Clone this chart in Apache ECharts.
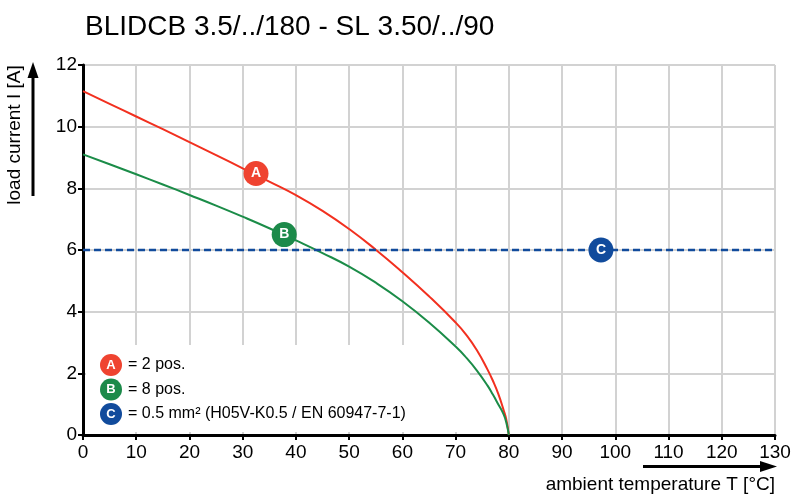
<!DOCTYPE html>
<html lang="en">
<head>
  <meta charset="utf-8"/>
  <title>BLIDCB 3.5/../180 - SL 3.50/../90</title>
  <script src="https://cdn.jsdelivr.net/npm/echarts/dist/echarts.min.js"></script>
  <style>
    body { margin: 0; background-color: #fff; }
  </style>
</head>
<body>
<div id="main" style="width: 800px;height: 500px"></div>
<script type="text/javascript">
  // curve A (2 pos.)
  var tempA = [0, 5, 10, 15, 20, 25, 30, 35, 40, 45, 50, 55, 60, 65, 70, 72, 74, 76, 77, 78, 79, 79.5, 80];
  var currentA = [11.15, 10.74, 10.33, 9.92, 9.5, 9.08, 8.65, 8.22, 7.78, 7.27, 6.68, 6.01, 5.28, 4.5, 3.65, 3.25, 2.75, 2.12, 1.76, 1.34, 0.82, 0.52, 0];
  // curve B (8 pos.)
  var tempB = [0, 5, 10, 15, 20, 25, 30, 35, 40, 45, 50, 55, 60, 65, 70, 72, 74, 76, 77, 78, 79, 79.5, 80];
  var currentB = [9.1, 8.78, 8.455, 8.125, 7.785, 7.44, 7.08, 6.705, 6.31, 5.9, 5.46, 4.94, 4.34, 3.65, 2.87, 2.51, 2.09, 1.6, 1.31, 1.0, 0.68, 0.42, 0];
  // line C (0.5 mm²)
  var tempC = [0, 130];
  var currentC = [6, 6];

  var markerLetters = ['A', 'B', 'C'];
  var markerTemp = [32.5, 37.8, 97.3];
  var markerCurrent = [8.48, 6.5, 6];
  var legendTexts = ['= 2 pos.', '= 8 pos.', '= 0.5 mm\u00b2 (H05V-K0.5 / EN 60947-7-1)'];

  var xMin = 0, xMax = 130, xStep = 10;
  var yMin = 0, yMax = 12, yStep = 2;

  var colors = ['#f2301f', '#1b8c48', '#114b9c'];
  var markerColors = ['#ef4330', '#1c8a4a', '#114b9c'];
  var font = '"Liberation Sans", Arial, sans-serif';

  function pairs(xs, ys) {
    return xs.map(function (x, i) { return [x, ys[i]]; });
  }

  var myChart = echarts.init(document.getElementById('main'));

  var legendGraphics = [{
    type: 'rect',
    z: 1,
    shape: { x: 86, y: 345, width: 384, height: 87 },
    style: { fill: '#fff' }
  }];
  legendTexts.forEach(function (t, i) {
    var cy = 365 + i * 24.5;
    legendGraphics.push({
      type: 'circle', z: 5,
      shape: { cx: 111, cy: cy, r: 11 },
      style: { fill: markerColors[i] }
    });
    legendGraphics.push({
      type: 'text', z: 6, x: 111, y: cy,
      style: { text: markerLetters[i], fill: '#fff', font: 'bold 13px ' + font, align: 'center', verticalAlign: 'middle' }
    });
    legendGraphics.push({
      type: 'text', z: 6, x: 128, y: cy,
      style: { text: t, fill: '#000', font: '16px ' + font, verticalAlign: 'middle' }
    });
  });

  var option = {
    animation: false,
    title: {
      text: 'BLIDCB 3.5/../180 - SL 3.50/../90',
      left: 85,
      top: 13,
      padding: 0,
      textStyle: { fontSize: 28, fontWeight: 'normal', color: '#000', fontFamily: font }
    },
    grid: { left: 83, right: 25, top: 65, bottom: 65, containLabel: false },
    xAxis: {
      type: 'value',
      min: xMin, max: xMax, interval: xStep,
      axisLine: { lineStyle: { color: '#000', width: 3 } },
      axisTick: { show: true, length: 5, lineStyle: { color: '#000', width: 2 } },
      axisLabel: { color: '#000', fontSize: 19, fontFamily: font, margin: 8 },
      splitLine: { show: true, lineStyle: { color: '#d2d2d2', width: 2 } }
    },
    yAxis: {
      type: 'value',
      min: yMin, max: yMax, interval: yStep,
      axisLine: { show: true, lineStyle: { color: '#000', width: 3 } },
      axisTick: { show: true, length: 5, lineStyle: { color: '#000', width: 2 } },
      axisLabel: { color: '#000', fontSize: 19, fontFamily: font, margin: 6 },
      splitLine: { show: true, lineStyle: { color: '#d2d2d2', width: 2 } }
    },
    graphic: legendGraphics.concat([
      // y axis caption and arrow
      {
        type: 'text', x: 15, y: 135, rotation: Math.PI / 2,
        style: { text: 'load current I [A]', fill: '#000', font: '19px ' + font, align: 'center', verticalAlign: 'middle' }
      },
      { type: 'line', shape: { x1: 33, y1: 196, x2: 33, y2: 75 }, style: { stroke: '#000', lineWidth: 3 } },
      { type: 'polygon', shape: { points: [[33, 62], [27.5, 78], [38.5, 78]] }, style: { fill: '#000' } },
      // x axis caption and arrow
      {
        type: 'text', x: 775, y: 485,
        style: { text: 'ambient temperature T [\u00b0C]', fill: '#000', font: '19px ' + font, align: 'right', verticalAlign: 'middle' }
      },
      { type: 'line', shape: { x1: 643, y1: 466.5, x2: 762, y2: 466.5 }, style: { stroke: '#000', lineWidth: 3 } },
      { type: 'polygon', shape: { points: [[777, 466.5], [760, 461], [760, 472]] }, style: { fill: '#000' } }
    ]),
    series: [
      {
        name: 'A', type: 'line', data: pairs(tempA, currentA),
        smooth: 0.5, showSymbol: false, z: 3,
        lineStyle: { color: colors[0], width: 2 }
      },
      {
        name: 'B', type: 'line', data: pairs(tempB, currentB),
        smooth: 0.5, showSymbol: false, z: 3,
        lineStyle: { color: colors[1], width: 2 }
      },
      {
        name: 'C', type: 'line', data: pairs(tempC, currentC),
        showSymbol: false, z: 3,
        lineStyle: { color: colors[2], width: 2.5, type: [7, 4] }
      },
      {
        name: 'markers', type: 'scatter', z: 4,
        symbol: 'circle', symbolSize: 25,
        data: markerLetters.map(function (l, i) {
          return { value: [markerTemp[i], markerCurrent[i]], name: l, itemStyle: { color: markerColors[i], opacity: 1 } };
        }),
        label: {
          show: true, position: 'inside', formatter: '{b}',
          color: '#fff', fontSize: 14, fontWeight: 'bold', fontFamily: font
        }
      }
    ]
  };

  myChart.setOption(option);
</script>
</body>
</html>
